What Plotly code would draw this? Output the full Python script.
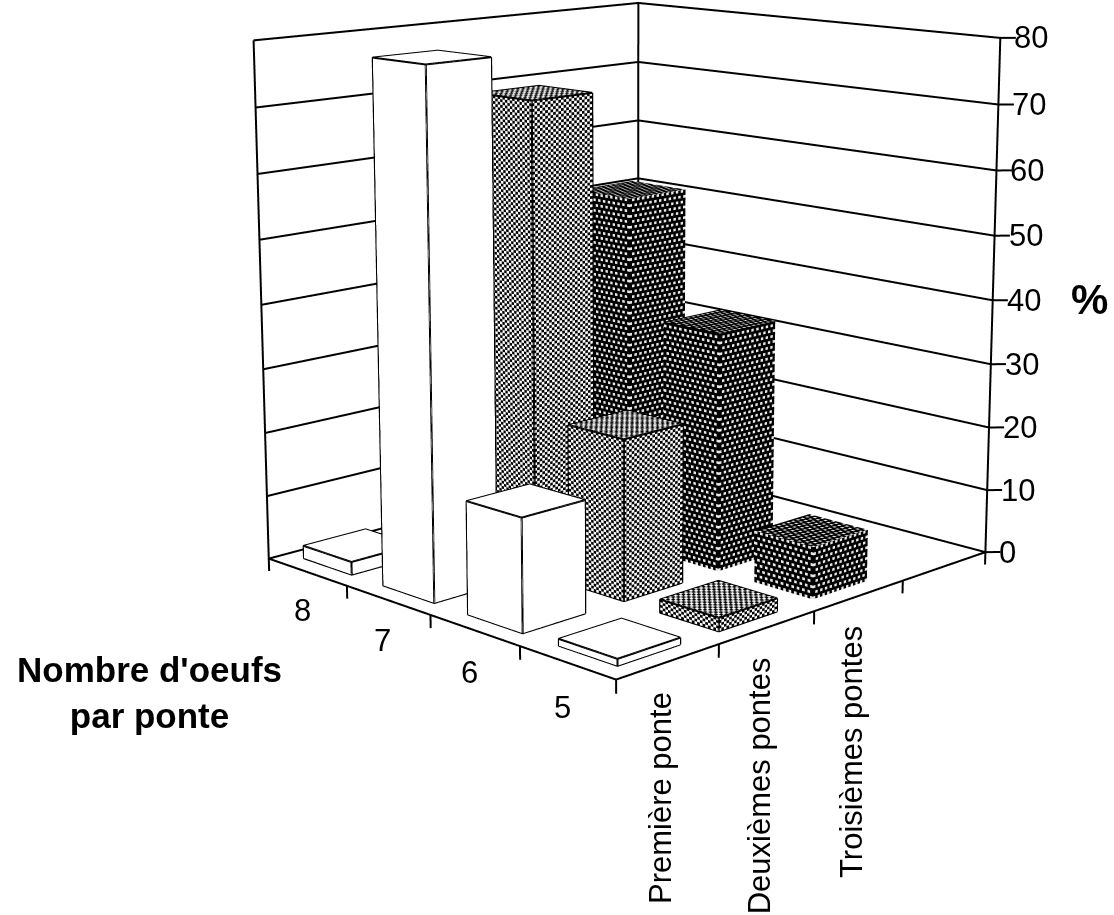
import numpy as np
import plotly.graph_objects as go

# Share of clutches (%) by laying rank and clutch size
laying_rank = ["Première ponte", "Deuxièmes pontes", "Troisièmes pontes"]
clutch_size = ["5", "6", "7", "8"]
premiere = [1, 17, 79, 2]
deuxiemes = [2, 24.5, 72, 0]
troisiemes = [8, 37, 55, 0]
pct_ticks = [0, 10, 20, 30, 40, 50, 60, 70, 80]

series = [premiere, deuxiemes, troisiemes]
fills = ["plain", "grey", "dark"]
outlined = [True, True, False]

# The floor has four divisions on both axes; the fourth laying rank is left empty
N_X, N_Y = 4, 4

# Bar footprint inside its category cell
BAR_X = 0.305
BAR_Y = 0.305

# Plot box in data units
XR = [0.0, 4.1]
YR = [-0.1, 4.02]
ZR = [-2.5, 80.5]
SIDE_X, SIDE_Y = 1.03, 0.97   # floor sides
HZ = 1.02                     # height of 80 %
CELL = (0.026, 0.028, 0.42)   # halftone cell size per axis

# The camera has a long lens, so the drawing surface is larger than the page
W, H = 1257, 2195
SHIFT_Y = 797


def to_world(x, y, z):
    return ((x - N_X / 2) / N_X * SIDE_X, (y - N_Y / 2) / N_Y * SIDE_Y, z / 80.0 * HZ)


box_lo = to_world(XR[0], YR[0], ZR[0])
box_hi = to_world(XR[1], YR[1], ZR[1])
box_mid = [(a + b) / 2 for a, b in zip(box_lo, box_hi)]
aspect = [b - a for a, b in zip(box_lo, box_hi)]

GROUND = 5.012
EYE_H = 1.573
PITCH = np.radians(11.93)
eye_world = (-GROUND / np.sqrt(2), -GROUND / np.sqrt(2), EYE_H)
look_world = (0.0, 0.0, EYE_H - GROUND * np.tan(PITCH))


def scene_pt(p):
    return dict(x=p[0] - box_mid[0], y=p[1] - box_mid[1], z=p[2] - box_mid[2])


class MeshBuilder:
    def __init__(self):
        self.v, self.f, self.c = [], [], []

    def quad_grid(self, origin, du, dv, nu, nv, fill):
        o, du, dv = map(np.asarray, (origin, du, dv))
        for a in range(nu):
            for b in range(nv):
                p0 = o + du * a / nu + dv * b / nv
                p1 = p0 + du / nu
                p2 = p1 + dv / nv
                p3 = p0 + dv / nv
                n = len(self.v)
                self.v += [p0, p1, p2, p3]
                self.f += [(n, n + 1, n + 2), (n, n + 2, n + 3)]
                if fill == "plain":
                    col = "#ffffff"
                elif fill == "grey":
                    col = "#000000" if (a + b) % 2 else "#ffffff"
                else:
                    dot = (a % 2 == 0 and b % 4 == 0) or (a % 2 == 1 and b % 4 == 2)
                    col = "#e8e8e8" if dot else "#000000"
                self.c += [col, col]

    def bar(self, xc, yc, h, fill):
        x0, x1 = xc - BAR_X, xc + BAR_X
        y0, y1 = yc - BAR_Y, yc + BAR_Y

        def count(ext, cell):
            return 1 if fill == "plain" else max(1, int(round(ext / cell)))

        nx, ny, nz = count(x1 - x0, CELL[0]), count(y1 - y0, CELL[1]), count(h, CELL[2])
        self.quad_grid((x0, y0, 0), (x1 - x0, 0, 0), (0, 0, h), nx, nz, fill)
        self.quad_grid((x0, y0, 0), (0, y1 - y0, 0), (0, 0, h), ny, nz, fill)
        self.quad_grid((x0, y0, h), (x1 - x0, 0, 0), (0, y1 - y0, 0), nx, ny, fill)

    def trace(self):
        v = np.array(self.v)
        f = np.array(self.f)
        return go.Mesh3d(
            x=v[:, 0], y=v[:, 1], z=v[:, 2], i=f[:, 0], j=f[:, 1], k=f[:, 2],
            facecolor=self.c, flatshading=True, hoverinfo="skip",
            lighting=dict(ambient=1, diffuse=0, specular=0, roughness=1, fresnel=0),
        )


fig = go.Figure()


class Lines:
    def __init__(self):
        self.x, self.y, self.z = [], [], []

    def add(self, *pts):
        for p in pts:
            self.x.append(p[0]); self.y.append(p[1]); self.z.append(p[2])
        self.x.append(None); self.y.append(None); self.z.append(None)

    def trace(self, width=4):
        return go.Scatter3d(x=self.x, y=self.y, z=self.z, mode="lines",
                            line=dict(color="#000000", width=width), hoverinfo="skip")


# Bars, one mesh per laying rank
edges = Lines()
for s, (vals, fill, has_edge) in enumerate(zip(series, fills, outlined)):
    mesh = MeshBuilder()
    for r, h in enumerate(vals):
        if h <= 0:
            continue
        xc, yc = s + 0.5, r + 0.5
        mesh.bar(xc, yc, h, fill)
        if has_edge:
            x0, x1, y0, y1 = xc - BAR_X, xc + BAR_X, yc - BAR_Y, yc + BAR_Y
            edges.add((x1, y0, 0), (x0, y0, 0), (x0, y1, 0), (x0, y1, h), (x1, y1, h), (x1, y0, h), (x0, y0, h), (x0, y1, h))
            edges.add((x0, y0, 0), (x0, y0, h))
            edges.add((x1, y0, 0), (x1, y0, h))
    fig.add_trace(mesh.trace())

# Walls, floor outline, gridlines and ticks
frame = Lines()
xb, yb = float(N_X), float(N_Y)
for z in pct_ticks:
    frame.add((0, yb, z), (xb, yb, z), (xb, 0, z), (xb + 0.084, -0.084, z))
frame.add((0, yb, -2), (0, yb, 80))
frame.add((xb, yb, 0), (xb, yb, 80))
frame.add((xb, 0, -2), (xb, 0, 80))
frame.add((0, yb, 0), (0, 0, 0), (xb, 0, 0))
for i in range(N_X):
    frame.add((i, 0, 0), (i, 0, -2))
for j in range(1, N_Y):
    frame.add((0, j, 0), (0, j, -2))
fig.add_trace(frame.trace())
fig.add_trace(edges.trace())

font = dict(family="Liberation Sans", size=31, color="#000000")
label_font = dict(family="Liberation Sans", size=31, color="#000000")
notes = []
for z in pct_ticks:
    notes.append(dict(x=xb, y=0, z=z, text=str(z), showarrow=False, xanchor="left", xshift=12, font=font))
for i, name in enumerate(laying_rank):
    notes.append(dict(x=i + 0.5, y=0, z=0, text=name, showarrow=False, textangle=-90,
                      xanchor="center", yanchor="top", xshift=-8, yshift=-28, font=label_font))
for j, name in enumerate(clutch_size):
    notes.append(dict(x=0, y=j + 0.5, z=0, text=name, showarrow=False,
                      xshift=-5, yshift=-45 + 2.3 * j, font=font))


def page_x(px):
    return px / W


def page_y(py):
    return 1 - (py + SHIFT_Y) / H


bold = dict(family="Liberation Sans", size=35, color="#000000", weight="bold")
paper_notes = [
    dict(x=page_x(149), y=page_y(692), xref="paper", yref="paper", showarrow=False, align="center",
         xanchor="center", yanchor="middle", text="Nombre d'oeufs<br>par ponte", font=bold),
    dict(x=page_x(1089), y=page_y(299), xref="paper", yref="paper", showarrow=False,
         xanchor="center", yanchor="middle", text="%",
         font=dict(family="Liberation Sans", size=42, color="#000000", weight="bold")),
]

hidden = dict(visible=False)
fig.update_layout(
    width=W, height=H, margin=dict(l=0, r=0, t=0, b=0, pad=0),
    paper_bgcolor="#ffffff", showlegend=False,
    annotations=paper_notes,
    scene=dict(
        domain=dict(x=[0, 1], y=[0, 1]),
        bgcolor="#ffffff",
        xaxis=dict(range=XR, **hidden),
        yaxis=dict(range=YR, **hidden),
        zaxis=dict(range=ZR, **hidden),
        aspectmode="manual",
        aspectratio=dict(x=aspect[0], y=aspect[1], z=aspect[2]),
        camera=dict(eye=scene_pt(eye_world), center=scene_pt(look_world), up=dict(x=0, y=0, z=1)),
        annotations=notes,
    ),
)
# Lift the drawing so that the lens axis sits at the upper part of the page
fig.write_html(
    "out.html",
    post_script="document.getElementById('{plot_id}').style.marginTop='-%dpx';" % SHIFT_Y,
)
